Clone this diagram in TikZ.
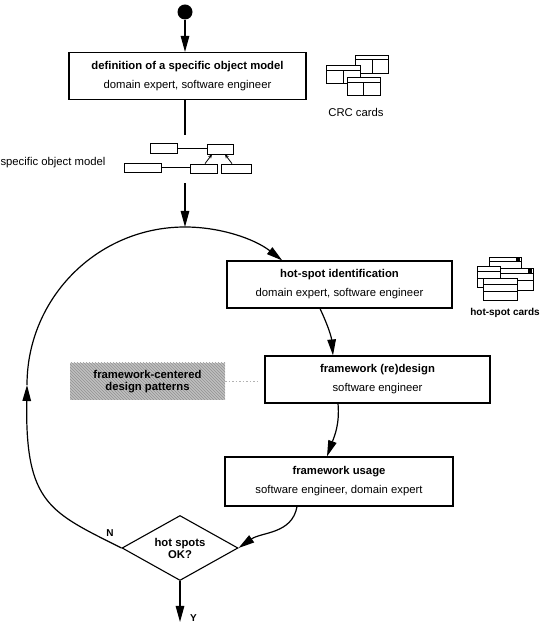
\documentclass[tikz,border=0pt]{standalone}
\usepackage{fontspec}
\setmainfont{Liberation Sans}
\usetikzlibrary{arrows.meta, shapes.geometric, patterns}

\begin{document}
\begin{tikzpicture}[x=1pt, y=1pt, font=\fontsize{11.3}{19}\selectfont,
    box/.style={draw, line width=1.1pt, minimum height=47pt, inner sep=0pt, align=center},
    flow/.style={line width=1.2pt, -{Triangle[length=16pt, width=8.5pt]}},
    link/.style={line width=1.2pt},
    mini/.style={draw, line width=0.8pt, inner sep=0pt},
    card/.style={draw, fill=white, line width=0.8pt}]
  \useasboundingbox (0,0) rectangle (548,624);
  % start and first step
  \node[circle, fill, inner sep=0pt, minimum size=15pt] (start) at (185,612) {};
  \node[box, minimum width=237pt] (def) at (187.5,548) {\textbf{definition of a specific object model}\\domain expert, software engineer};
  \draw[flow] (start) -- (start |- def.north);
  % CRC cards
  \draw[card] (355,551) rectangle (388,569); \draw[line width=0.8pt] (355,565) -- (388,565) (372,551) -- (372,565);
  \draw[card] (326,541) rectangle (360,559); \draw[line width=0.8pt] (326,554) -- (360,554) (343,541) -- (343,554);
  \draw[card] (347,529) rectangle (380,547); \draw[line width=0.8pt] (347,542) -- (380,542) (363,529) -- (363,542);
  \node (crc) at (356,512) {CRC cards};
  % specific object model
  \node[minimum width=128pt, minimum height=48pt, inner sep=0pt] (om) at (187.5,465) {};
  \node[anchor=west] (omlabel) at (-3,461) {specific object model};
  \node[mini, minimum width=27pt, minimum height=10pt] (oa) at (163.5,476) {};
  \node[mini, minimum width=26pt, minimum height=10pt] (ob) at (220,475) {};
  \node[mini, minimum width=37pt, minimum height=9pt] (oc) at (142.5,456.5) {};
  \node[mini, minimum width=27pt, minimum height=9pt] (od) at (203.5,455.5) {};
  \node[mini, minimum width=30pt, minimum height=9pt] (oe) at (236,455.5) {};
  \draw[line width=0.8pt] (oa.east) -- (oa.east -| ob.west);
  \draw[line width=0.8pt] (oc.east) -- (oc.east -| od.west);
  \draw[line width=0.8pt, -{Stealth[length=4pt, width=3.5pt]}] ([xshift=1.5pt]od.north) -- ([xshift=-8pt]ob.south);
  \draw[line width=0.8pt, -{Stealth[length=4pt, width=3.5pt]}] ([xshift=-4pt]oe.north) -- ([xshift=5pt]ob.south);
  \draw[link] (start |- def.south) -- (start |- om.north);
  % loop
  \coordinate (ctop) at (185,397);
  \coordinate (lp) at (27,239);
  \draw[flow] (start |- om.south) -- (ctop);
  \node[box, minimum width=225pt] (hs) at (339.5,339.5) {\textbf{hot-spot identification}\\domain expert, software engineer};
  \node[box, minimum width=225pt] (rd) at (377.5,244.5) {\textbf{framework (re)design}\\software engineer};
  \node[box, minimum width=228pt, minimum height=49pt] (us) at (339,142.5) {\textbf{framework usage}\\software engineer, domain expert};
  \node[draw, diamond, line width=1.1pt, minimum width=116pt, minimum height=65pt, inner sep=0pt, aspect=1.78,
    align=center, font=\bfseries\fontsize{11.3}{12}\selectfont] (q) at (180,76) {hot spots\\OK?};
  \draw[flow] (lp) arc[start angle=180, end angle=52, radius=158pt];
  \draw[flow] ([xshift=-19.5pt]hs.south) to[out=-65, in=95] ([xshift=-44.5pt]rd.north);
  \draw[flow] ([xshift=-39.5pt]rd.south) to[out=-85, in=70] ([xshift=-12pt]us.north);
  \draw[flow] ([xshift=-42pt]us.south) to[out=-100, in=35] (q.east);
  \draw[flow] (q.west) .. controls (50,112) and (25,120) .. (lp);
  \node[font=\bfseries] (no) at (110,91) {N};
  \coordinate (out) at (180,2);
  \draw[flow] (q.south) -- (out);
  \node[font=\bfseries, anchor=south west, inner sep=0pt] (yes) at (190,2) {Y};
  % hot-spot cards
  \draw[card] (489,349) rectangle (521,367); \draw[line width=0.8pt] (489,363) -- (521,363); \fill (516,363) rectangle (520,366);
  \draw[card] (477,337) rectangle (500,358); \draw[line width=0.8pt] (477,353) -- (500,353) (477,346) -- (500,346);
  \draw[card] (500,334) rectangle (533,356); \draw[line width=0.8pt] (500,351) -- (533,351) (500,344) -- (533,344); \fill (528,351) rectangle (532,355);
  \draw[card] (483,324) rectangle (517,346); \draw[line width=0.8pt] (483,340) -- (517,340) (483,333) -- (517,333);
  \node[font=\bfseries] (hsc) at (505,311) {hot-spot cards};
  % design patterns
  \node[fill=gray!50, postaction={pattern=north west lines, pattern color=gray!85}, minimum width=155pt, minimum height=37pt,
    inner sep=0pt, align=center, font=\bfseries\fontsize{11.3}{12}\selectfont] (pat) at (147.5,242.5) {framework-centered\\design patterns};
  \draw[gray!60, line width=1.5pt, dotted, shorten >=7pt] (pat.east) -- (pat.east -| rd.west);
\end{tikzpicture}
\end{document}
